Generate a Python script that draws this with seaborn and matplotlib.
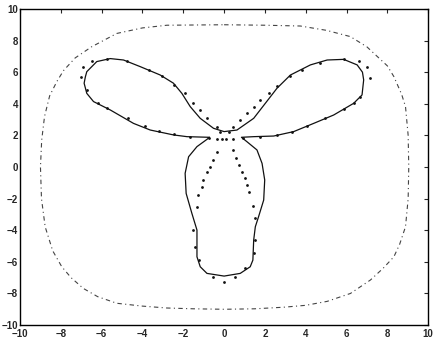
import numpy as np
import pandas as pd
import matplotlib
matplotlib.use("Agg")
import matplotlib.pyplot as plt
import seaborn as sns

# outer rounded-square curve
outer_x = [0.0, 2.0, 3.74, 5.0, 6.19, 7.0, 7.5, 8.0, 8.32, 8.7, 8.89, 9.02, 9.05,
           9.02, 8.89, 8.6, 8.32, 7.8, 7.17, 6.19, 5.05, 4.0, 2.92, 1.5, 0.0,
           -1.5, -2.8, -4.0, -5.26, -6.2, -6.9, -7.5, -7.96, -8.4, -8.77, -8.95,
           -9.0, -8.94, -8.8, -8.55, -8.2, -7.87, -7.3, -6.5, -5.26, -4.0, -2.8, 0.0]
outer_y = [9.0, 8.97, 8.92, 8.65, 8.25, 7.6, 7.0, 6.4, 5.72, 4.6, 3.82, 2.0, 0.0,
           -2.0, -3.78, -4.9, -5.68, -6.4, -7.15, -8.0, -8.5, -8.75, -8.87, -8.97, -9.0,
           -8.97, -8.92, -8.8, -8.62, -8.2, -7.68, -7.0, -6.3, -5.3, -3.78, -2.0,
           0.0, 1.7, 3.2, 4.5, 5.4, 6.1, 6.9, 7.6, 8.45, 8.8, 8.97, 9.0]

# solid three-lobed boundary
lobe_x = [-0.72, -1.82, -2.48, -3.62, -4.44, -5.58, -6.4, -6.73, -6.86, -6.8, -6.73,
          -6.24, -5.58, -4.93, -4.11, -3.13, -2.48, -2.07, -1.66, -1.17, -0.52, 0.0,
          0.63, 1.45, 2.02, 2.59, 3.25, 4.23, 5.05, 5.86, 6.52, 6.78, 6.84, 6.76, 6.35,
          5.37, 4.39, 3.41, 2.43, 1.45, 0.85,
          1.12, 1.61, 1.86, 1.99, 1.94, 1.69, 1.53, 1.45, 1.41, 1.28, 0.79, 0.0,
          -0.84, -1.17, -1.33, -1.33, -1.58, -1.86, -1.91, -1.74, -1.33, -0.84, -0.72]
lobe_y = [1.88, 1.92, 2.03, 2.34, 2.76, 3.61, 4.14, 4.66, 5.3, 5.7, 6.03,
          6.67, 6.86, 6.77, 6.35, 5.82, 5.3, 4.66, 3.82, 3.08, 2.45, 2.24,
          2.34, 3.08, 4.03, 4.98, 5.82, 6.46, 6.77, 6.81, 6.46, 6.0, 5.51, 4.56, 4.03,
          3.29, 2.76, 2.24, 1.96, 1.92, 1.88,
          1.6, 1.08, 0.23, -0.82, -2.09, -3.14, -3.78, -4.62, -5.89, -6.31, -6.73, -6.9,
          -6.73, -6.31, -5.68, -3.99, -2.93, -1.67, -0.4, 0.65, 1.29, 1.75, 1.88]

# dotted points
dot_x = [-0.35, -0.85, -1.17, -1.5, -1.9, -2.48, -3.05, -3.7, -4.76, -5.75, -6.49,
         -6.9, -7.0, -6.73, -6.16, -5.75, -4.69, -3.87, -3.21, -2.48, -1.66, -0.76,
         0.46, 0.79, 1.12, 1.45, 1.77, 2.18, 2.59, 3.25, 3.82, 4.72, 5.86, 6.6,
         7.0, 7.14, 6.68, 6.35, 5.86, 4.96, 4.06, 3.33, 2.59, 1.77, 0.95,
         -0.2, 0.25, -0.36, -0.11, 0.1, 0.43,
         -0.36, -0.52, -0.69, -0.85, -1.01, -1.09, -1.26, -1.34,
         0.46, 0.59, 0.75, 0.87, 1.0, 1.13, 1.24, 1.44,
         -1.5, -1.41, -1.25, -0.52, 0.0, 0.54, 1.04, 1.45, 1.5, 1.53]
dot_y = [2.55, 3.08, 3.6, 4.03, 4.66, 5.19, 5.76, 6.14, 6.71, 6.84, 6.71,
         6.35, 5.68, 4.87, 4.03, 3.71, 3.08, 2.59, 2.3, 2.07, 1.92, 1.81,
         2.55, 2.97, 3.4, 3.82, 4.24, 4.66, 5.13, 5.76, 6.14, 6.56, 6.81, 6.71,
         6.35, 5.61, 4.45, 4.03, 3.65, 3.08, 2.59, 2.24, 2.03, 1.92, 1.81,
         2.2, 2.2, 1.75, 1.75, 1.75, 1.75,
         0.97, 0.44, 0.02, -0.3, -0.82, -1.25, -1.77, -2.51,
         1.08, 0.55, 0.13, -0.3, -0.72, -1.14, -1.56, -2.47,
         -3.99, -5.04, -5.89, -6.98, -7.26, -6.98, -6.41, -5.46, -4.62, -3.25]

outer = pd.DataFrame({"x": outer_x, "y": outer_y})
lobe = pd.DataFrame({"x": lobe_x, "y": lobe_y})
dots = pd.DataFrame({"x": dot_x, "y": dot_y})

sns.set_style("white")
plt.rcParams['font.family'] = ['Liberation Sans', 'DejaVu Sans']

fig = plt.figure(figsize=(4.36, 3.44), dpi=100)
ax = fig.add_axes([0.046, 0.055, 0.936, 0.919])

sns.lineplot(data=outer, x="x", y="y", sort=False, estimator=None, ax=ax,
             color="#444444", linewidth=0.8, linestyle=(0, (4, 3, 1, 3)))
sns.lineplot(data=lobe, x="x", y="y", sort=False, estimator=None, ax=ax,
             color="#111111", linewidth=0.9)
sns.scatterplot(data=dots, x="x", y="y", ax=ax, color="#111111", s=4,
                linewidth=0, marker="o")

ax.set_xlim(-10, 10)
ax.set_ylim(-10, 10)
ax.set_xticks(np.arange(-10, 11, 2))
ax.set_yticks(np.arange(-10, 11, 2))
ax.set_xlabel("")
ax.set_ylabel("")
ax.tick_params(direction="in", length=3, width=0.8, top=True, right=True,
               labelsize=7, pad=1.5)
ax.tick_params(axis="x", pad=3)
for lab in ax.get_xticklabels() + ax.get_yticklabels():
    lab.set_fontweight("bold")
for sp in ax.spines.values():
    sp.set_linewidth(1.0)
    sp.set_color("black")

fig.savefig("out.png", dpi=100)
